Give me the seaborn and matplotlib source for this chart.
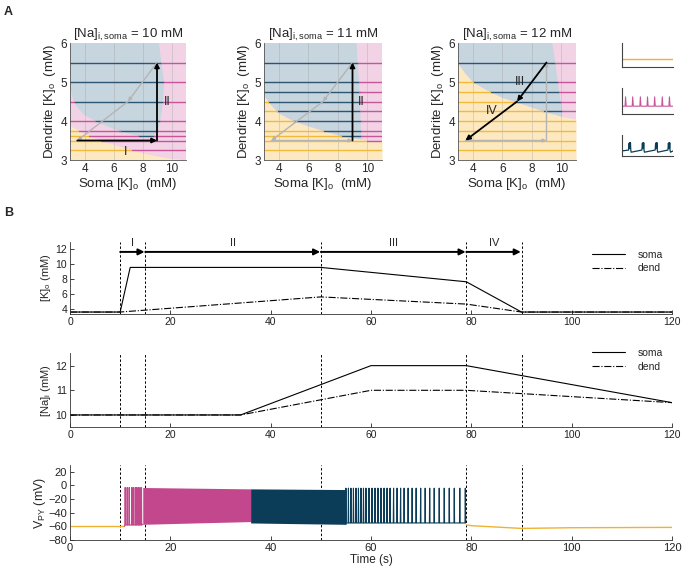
import numpy as np
import pandas as pd
import matplotlib
matplotlib.use("Agg")
import matplotlib.pyplot as plt
import seaborn as sns
from matplotlib.path import Path

# ---------------- data ----------------
# Panel A: phase maps (soma [K]o vs dendrite [K]o) for three soma [Na]i levels
na_levels = [10, 11, 12]
traj_soma = [3.5, 9.0, 9.0, 7.0, 3.5]
traj_dend = [3.5, 3.5, 5.5, 4.5, 3.5]
traj_names = ["I", "II", "III", "IV"]
traj_active = [[0, 1], [1], [2, 3]]

# region boundaries
p1_blue_x = [3.0, 3.2, 3.5, 4.0, 5.0, 6.0, 7.0, 8.0, 8.7, 9.07, 9.23, 9.42, 9.49, 9.3, 9.14]
p1_blue_y = [4.9, 4.55, 4.35, 4.15, 3.95, 3.8, 3.68, 3.6, 3.6, 3.75, 4.0, 4.5, 5.0, 5.5, 6.0]
p1_yel_x = [3.0, 4.0, 5.0, 6.0, 7.0, 8.0, 9.0, 10.0, 11.0]
p1_yel_y = [3.88, 3.68, 3.52, 3.40, 3.28, 3.18, 3.10, 3.04, 3.0]
p1_levels = [3.25, 3.5, 3.625, 3.75, 4.0, 4.5, 5.0, 5.5]

p2_blue_x = [3.0, 3.5, 4.0, 5.0, 6.0, 7.0, 8.0, 9.0, 9.6, 9.55, 9.5, 9.45, 9.35, 9.28]
p2_blue_y = [4.65, 4.4, 4.2, 4.0, 3.87, 3.75, 3.64, 3.56, 3.53, 4.0, 4.5, 5.0, 5.5, 6.0]
p2_yel_x = [3.0, 3.5, 4.0, 5.0, 6.0, 7.0, 8.0, 9.0, 10.0, 11.0]
p2_yel_y = [4.65, 4.4, 4.2, 4.0, 3.87, 3.75, 3.64, 3.56, 3.5, 3.47]
p2_levels = [3.25, 3.5, 3.625, 3.75, 4.0, 4.25, 4.5, 4.75, 5.0, 5.5]

p3_blue_x = [3.0, 3.5, 4.0, 5.0, 6.0, 7.0, 8.0, 9.0, 10.07, 9.95, 9.77, 9.6, 9.39]
p3_blue_y = [5.48, 5.22, 5.0, 4.78, 4.6, 4.48, 4.35, 4.22, 4.11, 4.5, 5.0, 5.5, 6.0]
p3_yel_x = [3.0, 3.5, 4.0, 5.0, 6.0, 7.0, 8.0, 9.0, 10.0, 11.0]
p3_yel_y = [5.48, 5.22, 5.0, 4.78, 4.6, 4.48, 4.35, 4.22, 4.12, 4.05]
p3_levels = [3.25, 3.5, 3.75, 4.0, 4.25, 4.5, 4.75, 5.0, 5.5]

# Inset example traces (normalised)
inset_flat_t = [0.0, 1.0]
inset_flat_v = [0.31, 0.31]
inset_tonic_spikes = [0.07, 0.21, 0.36, 0.5, 0.64, 0.79, 0.93]
inset_bursts = [0.16, 0.42, 0.68, 0.93]

# Panel B: concentrations
t_k_soma = [0, 10, 12, 50, 79, 90, 120]
k_soma = [3.6, 3.6, 9.5, 9.5, 7.6, 3.6, 3.6]
t_k_dend = [0, 10, 50, 79, 90, 120]
k_dend = [3.6, 3.6, 5.6, 4.65, 3.6, 3.6]

t_na_soma = [0, 34, 60, 79, 120]
na_soma = [10.0, 10.0, 12.0, 12.0, 10.5]
t_na_dend = [0, 34, 60, 79, 120]
na_dend = [10.0, 10.0, 11.0, 11.0, 10.5]

phase_edges = [10, 15, 50, 79, 90]
phase_names = ["I", "II", "III", "IV"]

# Voltage
v_rest_t = [0, 10.8]
v_rest = [-60, -60]
pink_spikes = [11.0, 11.4, 11.8, 12.3, 12.6, 13.0, 13.3, 13.6, 13.95, 14.25]
pink_dense_t = [14.5, 25.0, 36.0]
pink_dense_top = [-3, -4, -5]
pink_dense_bot = [-57, -55, -53]
blue_dense_t = [36.0, 45.0, 55.0]
blue_dense_top = [-5, -5.5, -6]
blue_dense_bot = [-55, -56, -57]
blue_spikes = [55.0, 55.5, 56.0, 56.5, 57.0, 57.5, 58.0, 58.5, 59.0, 59.6, 60.2,
               60.8, 61.4, 62.0, 62.6, 63.2, 63.8, 64.5, 65.2, 65.9, 66.6, 67.4,
               68.2, 69.0, 69.9, 70.8, 71.7, 72.6, 73.6, 74.6, 75.6, 76.6, 77.7, 78.8]
v_post_t = [79.0, 80.0, 85.0, 90.0, 100.0, 120.0]
v_post = [-58, -59, -61, -63, -62, -61.5]

# ---------------- style ----------------
sns.set_style("ticks")
plt.rcParams['font.family'] = ['Liberation Sans', 'DejaVu Sans']
plt.rcParams['mathtext.default'] = 'regular'

C_BLUE_BG = "#c7d5de"
C_PINK_BG = "#f2d3e6"
C_YEL_BG = "#fde9c1"
C_BLUE_L = "#2e5570"
C_PINK_L = "#c8559a"
C_YEL_L = "#f2b93a"
C_PINK = "#c2478c"
C_BLUE = "#0b3c58"
C_YEL = "#f0b232"
GREY = "#b4b4b4"

W, H = 682, 572
fig = plt.figure(figsize=(W / 100, H / 100), dpi=100)


def rect(x0, y0, x1, y1):
    return [x0 / W, 1 - y1 / H, (x1 - x0) / W, (y1 - y0) / H]


def draw_map(ax, blue_x, blue_y, yel_x, yel_y, levels, active, na):
    ax.set_xlim(3, 11)
    ax.set_ylim(3, 6)
    ax.add_patch(plt.Rectangle((3, 3), 8, 3, color=C_PINK_BG, lw=0, zorder=0))
    fx = np.linspace(3, 11, 200)
    ax.fill_between(fx, 3, np.interp(fx, yel_x, yel_y), color=C_YEL_BG, lw=0, zorder=0.2)
    poly = list(zip(blue_x, blue_y)) + [(3.0, 6.0)]
    ax.fill([p[0] for p in poly], [p[1] for p in poly], color=C_BLUE_BG, lw=0, zorder=0.3)
    for gx in [4, 6, 8, 10]:
        ax.axvline(gx, color="#9a9a9a", lw=0.5, alpha=0.45, zorder=0.5)
    path = Path(poly)
    xs = np.linspace(3, 11, 801)
    for lv in levels:
        pts = np.column_stack([xs, np.full_like(xs, lv)])
        is_blue = path.contains_points(pts, radius=1e-9)
        is_yel = (~is_blue) & (lv < np.interp(xs, yel_x, yel_y))
        is_pink = ~(is_blue | is_yel)
        for m, c in [(is_blue, C_BLUE_L), (is_yel, C_YEL_L), (is_pink, C_PINK_L)]:
            mm = m | np.roll(m, 1) | np.roll(m, -1)
            ax.plot(xs, np.where(mm, lv, np.nan), color=c, lw=1.0, zorder=1)
    for i in range(4):
        act = i in active
        col = "black" if act else GREY
        ax.annotate("", xy=(traj_soma[i + 1], traj_dend[i + 1]),
                    xytext=(traj_soma[i], traj_dend[i]),
                    arrowprops=dict(arrowstyle="-|>", color=col, lw=1.3 if act else 1.0,
                                    mutation_scale=7 if act else 5, shrinkA=0, shrinkB=0),
                    zorder=3 if act else 2)
    ax.set_xticks([4, 6, 8, 10])
    ax.set_yticks([3, 4, 5, 6])
    ax.tick_params(direction="in", length=0, labelsize=8.5, pad=2)
    for s in ["top", "right"]:
        ax.spines[s].set_visible(False)
    for s in ["left", "bottom"]:
        ax.spines[s].set_linewidth(0.6)
        ax.spines[s].set_color("#555555")
    ax.set_xlabel("Soma [K]$_o$  (mM)", fontsize=9.5, labelpad=1)
    ax.set_ylabel("Dendrite [K]$_o$  (mM)", fontsize=9.5, labelpad=2)
    ax.set_title("[Na]$_{i,soma}$ = %d mM" % na, fontsize=9.5, pad=3)


xa = [(70, 186), (264, 382), (458, 576)]
maps = [(p1_blue_x, p1_blue_y, p1_yel_x, p1_yel_y, p1_levels),
        (p2_blue_x, p2_blue_y, p2_yel_x, p2_yel_y, p2_levels),
        (p3_blue_x, p3_blue_y, p3_yel_x, p3_yel_y, p3_levels)]
map_axes = []
for k in range(3):
    ax = fig.add_axes(rect(xa[k][0], 43, xa[k][1], 160))
    bx, by, yx, yy, lv = maps[k]
    draw_map(ax, bx, by, yx, yy, lv, traj_active[k], na_levels[k])
    map_axes.append(ax)

map_axes[0].text(6.8, 3.2, "I", fontsize=9, ha="center", va="center", zorder=4)
map_axes[0].text(9.7, 4.5, "II", fontsize=9, ha="center", va="center", zorder=4)
map_axes[1].text(9.6, 4.5, "II", fontsize=9, ha="center", va="center", zorder=4)
map_axes[2].text(7.2, 5.0, "III", fontsize=9, ha="center", va="center", zorder=4)
map_axes[2].text(5.3, 4.25, "IV", fontsize=9, ha="center", va="center", zorder=4)


def inset_axes(y0, y1):
    ax = fig.add_axes(rect(622, y0, 673, y1))
    ax.set_xlim(0, 1)
    ax.set_ylim(0, 1)
    ax.set_xticks([])
    ax.set_yticks([])
    for s in ["top", "right"]:
        ax.spines[s].set_visible(False)
    for s in ["left", "bottom"]:
        ax.spines[s].set_color("#444444")
        ax.spines[s].set_linewidth(0.8)
    ax.patch.set_alpha(0)
    return ax

ai1 = inset_axes(43, 66.5)
ai1.plot(inset_flat_t, inset_flat_v, color=C_YEL, lw=1.0)

ai2 = inset_axes(88, 114)
tt, vv = [0.0], [0.3]
for s in inset_tonic_spikes:
    tt += [s - 0.01, s, s + 0.012]
    vv += [0.3, 0.66, 0.3]
tt.append(1.0)
vv.append(0.3)
ai2.plot(tt, vv, color=C_PINK_L, lw=0.8)

ai3 = inset_axes(135, 156.5)
tt, vv = [0.0], [0.26]
for b in inset_bursts:
    tt += [b - 0.03, b - 0.02, b - 0.012, b - 0.005, b, b + 0.006, b + 0.012, b + 0.02]
    vv += [0.3, 0.62, 0.38, 0.64, 0.4, 0.64, 0.3, 0.2]
tt.append(1.0)
vv.append(0.26)
ai3.plot(tt, vv, color=C_BLUE, lw=0.9)


# ---------------- Panel B ----------------
def style_b(ax, ylim, yticks):
    ax.set_xlim(0, 120)
    ax.set_ylim(*ylim)
    ax.set_xticks([0, 20, 40, 60, 80, 100, 120])
    ax.set_yticks(yticks)
    ax.tick_params(direction="in", length=3, width=0.6, labelsize=7.5, pad=2, colors="#222222")
    for s in ["top", "right"]:
        ax.spines[s].set_visible(False)
    for s in ["left", "bottom"]:
        ax.spines[s].set_linewidth(0.6)
        ax.spines[s].set_color("#333333")
    for e in phase_edges:
        ax.axvline(e, color="black", lw=0.7, ls=(0, (2.5, 2)), zorder=1)


axk = fig.add_axes(rect(70, 241.7, 672, 314.3))
dfk_s = pd.DataFrame({"t": t_k_soma, "v": k_soma})
dfk_d = pd.DataFrame({"t": t_k_dend, "v": k_dend})
sns.lineplot(data=dfk_s, x="t", y="v", ax=axk, color="black", lw=0.8, label="soma")
sns.lineplot(data=dfk_d, x="t", y="v", ax=axk, color="black", lw=0.8, ls="-.", label="dend")
style_b(axk, (3.3, 12.9), [4, 6, 8, 10, 12])
axk.set_xlabel("")
axk.set_ylabel("[K]$_o$ (mM)", fontsize=8, labelpad=2)
for i in range(4):
    axk.annotate("", xy=(phase_edges[i + 1], 11.55), xytext=(phase_edges[i], 11.55),
                 arrowprops=dict(arrowstyle="-|>", color="black", lw=1.4,
                                 mutation_scale=9, shrinkA=0, shrinkB=0.5),
                 annotation_clip=False)
    axk.text((phase_edges[i] + phase_edges[i + 1]) / 2, 12.75, phase_names[i],
             fontsize=8, ha="center", va="center")
axk.legend(loc="upper right", bbox_to_anchor=(1.0, 1.02), frameon=False, fontsize=7.5,
           handlelength=3.2, labelspacing=0.35, handletextpad=1.2)

axn = fig.add_axes(rect(70, 353.3, 672, 427.3))
dfn_s = pd.DataFrame({"t": t_na_soma, "v": na_soma})
dfn_d = pd.DataFrame({"t": t_na_dend, "v": na_dend})
sns.lineplot(data=dfn_s, x="t", y="v", ax=axn, color="black", lw=0.8, label="soma")
sns.lineplot(data=dfn_d, x="t", y="v", ax=axn, color="black", lw=0.8, ls="-.", label="dend")
style_b(axn, (9.5, 12.5), [10, 11, 12])
axn.set_xlabel("")
axn.set_ylabel("[Na]$_i$ (mM)", fontsize=8, labelpad=2)
axn.legend(loc="upper right", bbox_to_anchor=(1.0, 1.2), frameon=False, fontsize=7.5,
           handlelength=3.2, labelspacing=0.35, handletextpad=1.2)

axv = fig.add_axes(rect(70, 465, 672, 540))
style_b(axv, (-80, 30), [-80, -60, -40, -20, 0, 20])
axv.tick_params(labelsize=8)


def spike_trace(times, trough, peak, w):
    t, v = [], []
    for s in times:
        t += [s - w, s, s + w]
        v += [trough, peak, trough]
    return t, v

sns.lineplot(x=v_rest_t, y=v_rest, ax=axv, color=C_YEL, lw=1.0)
pt, pv = spike_trace(pink_spikes, -58, -3, 0.05)
axv.plot([v_rest_t[-1]] + pt + [pink_dense_t[0]], [v_rest[-1]] + pv + [pink_dense_bot[0]],
         color=C_PINK, lw=0.8)
axv.fill_between(pink_dense_t, pink_dense_bot, pink_dense_top, color=C_PINK, lw=0)
axv.fill_between(blue_dense_t, blue_dense_bot, blue_dense_top, color=C_BLUE, lw=0)
bt, bv = spike_trace(blue_spikes, -55, -4, 0.06)
axv.plot([blue_dense_t[-1]] + bt, [blue_dense_bot[-1]] + bv, color=C_BLUE, lw=0.8)
sns.lineplot(x=v_post_t, y=v_post, ax=axv, color=C_YEL, lw=1.0)
axv.set_ylabel("V$_{PY}$ (mV)", fontsize=9, labelpad=0)
axv.set_xlabel("Time (s)", fontsize=8.5, labelpad=1)

fig.text(4 / W, 1 - 12 / H, "A", fontsize=9, fontweight="bold", va="center")
fig.text(4 / W, 1 - 213 / H, "B", fontsize=9, fontweight="bold", va="center")

fig.savefig("out.png", dpi=100)
